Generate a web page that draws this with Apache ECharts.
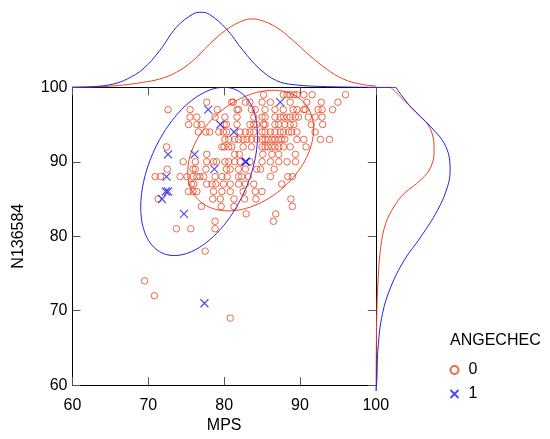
<!DOCTYPE html>
<html>
<head>
<meta charset="utf-8">
<script src="https://cdn.jsdelivr.net/npm/echarts@6/dist/echarts.min.js"></script>
<style>html,body{margin:0;padding:0;background:#fff}#main{width:550px;height:439px}</style>
</head>
<body>
<div id="main"></div>
<script>
var red = '#E8431E', blue = '#2121E6';
var font = 'Liberation Sans, Arial, sans-serif';

// ANGECHEC = 0 (circles), [MPS, N136584]
var group0 = [
  [85.2,99],[87.8,99],[88.3,99],[88.7,99],[89.2,99],[89.6,99],[90.5,99],[91.6,99],[96.0,99],
  [77.7,98],[81.0,98],[81.2,98],[82.8,98],[83.4,98],[85.0,98],[86.1,98],[88.7,98],[90.9,98],[92.8,98],[95.0,98],
  [72.6,97],[75.5,97],[79.1,97],[81.7,97],[81.9,97],[83.6,97],[84.1,97],[85.4,97],[86.7,97],[87.8,97],[89.1,97],[89.6,97],[90.5,97],[90.7,97],[92.4,97],[92.9,97],[94.3,97],
  [75.5,96],[76.4,96],[78.8,96],[80.1,96],[81.7,96],[83.9,96],[85.0,96],[85.4,96],[86.7,96],[87.4,96],[87.8,96],[88.3,96],[88.7,96],[89.4,96],[89.8,96],[91.1,96],[92.0,96],[92.9,96],
  [75.3,95],[76.4,95],[77.0,95],[80.0,95],[80.3,95],[81.7,95],[83.4,95],[83.9,95],[84.3,95],[85.2,95],[85.4,95],[86.7,95],[87.2,95],[88.0,95],[88.7,95],[89.2,95],[91.5,95],[93.0,95],
  [76.6,94],[77.6,94],[78.1,94],[79.3,94],[79.9,94],[80.3,94],[82.1,94],[82.8,94],[83.4,94],[83.9,94],[85.0,94],[85.4,94],[86.1,94],[86.7,94],[87.4,94],[87.8,94],[88.5,94],[88.9,94],[89.6,94],[92.0,94],
  [80.1,93],[80.6,93],[81.4,93],[81.9,93],[82.5,93],[83.0,93],[83.6,93],[84.3,93],[85.0,93],[85.4,93],[85.8,93],[86.3,93],[86.7,93],[87.2,93],[87.6,93],[88.0,93],[89.6,93],[90.5,93],[92.7,93],[93.9,93],
  [72.4,92],[79.7,92],[80.0,92],[80.6,92],[81.0,92],[82.5,92],[83.6,92],[85.0,92],[85.4,92],[85.8,92],[86.3,92],[86.7,92],[87.2,92],[87.8,92],[88.7,92],[90.8,92],
  [77.7,91],[81.4,91],[82.0,91],[85.1,91],[86.3,91],[87.2,91],[89.4,91],
  [74.6,90],[76.2,90],[77.7,90],[78.6,90],[79.0,90],[80.1,90],[80.6,90],[81.4,90],[82.1,90],[83.4,90],[85.0,90],[86.1,90],[87.2,90],[88.3,90],[89.4,90],
  [72.5,89],[75.9,89],[76.2,89],[77.6,89],[80.3,89],[80.8,89],[81.9,89],[82.8,89],[84.3,89],[84.8,89],[86.6,89],
  [70.9,88],[71.6,88],[74.2,88],[75.1,88],[75.9,88],[76.4,88],[76.8,88],[77.3,88],[78.8,88],[79.7,88],[80.4,88],[81.9,88],[82.3,88],[83.2,88],[86.1,88],[88.4,88],[89.0,88],
  [75.7,87],[76.0,87],[77.7,87],[78.4,87],[78.9,87],[79.9,87],[80.8,87],[81.9,87],[82.8,87],[83.9,87],[87.6,87],
  [75.3,86],[75.9,86],[76.4,86],[78.6,86],[79.7,86],[80.8,86],[82.5,86],[84.1,86],[85.0,86],
  [71.3,85],[78.5,85],[79.5,85],[81.3,85],[82.7,85],[84.2,85],[88.8,85],
  [77.0,84],[79.6,84],[81.3,84],[89.0,84],
  [82.9,83],[86.8,83],[78.8,82],[86.5,82],[73.7,81],[75.6,81],[78.8,81],
  [77.5,78],[69.5,74],[70.8,72],[80.8,69]
];
// ANGECHEC = 1 (crosses)
var group1 = [
  [77.9,97],[87.4,98],[79.5,95],[81.3,94],[72.6,91],[76.1,91],[82.8,90],[82.9,90],
  [78.7,89],[72.4,88],[72.3,86],[72.6,86],[71.8,85],[74.7,83],[77.4,71]
];

// ellipses: [centre MPS, centre N136584, var MPS, cov, var N136584]
var ellipse0 = [83.5, 91.5, 68.9, 24.0, 65.6];
var ellipse1 = [76.7, 88.7, 59.3, 37.0, 127.7];

// marginal density of MPS (top), scaled height
var top0 = [[60,0.1],[62.7,0.3],[65,1.2],[67.2,2.7],[69.3,5],[71.5,8.3],[73.7,15],[75.9,26.7],[78.1,43.3],[80.3,57.7],[82.5,66.7],[83.6,68.3],[84.7,67.3],[86.9,60],[89.1,46.7],[91.3,31.7],[93.5,18.3],[95.7,8.3],[97.9,3.3],[100,1.3]];
var top1 = [[60,0.1],[63,0.8],[65.4,3.3],[67.2,8.3],[69.3,18.3],[71.5,36.7],[73.7,60],[75.9,73.3],[77.0,75],[78.1,72.7],[80.3,58.3],[82.5,36.7],[84.7,18.3],[86.9,6.7],[89.1,2.7],[93.5,0.7],[100,0]];

// marginal density of N136584 (right), scaled width
var right0 = [[15,100],[28,98.3],[45,96.1],[55,94.4],[58.3,91.7],[55,89.5],[45,87.8],[28.3,86],[18.3,84.3],[10,82.1],[5,79],[2.3,74.6],[1,70.2],[0.5,65],[0.3,60]];
var right1 = [[20,100],[35,97.4],[55,94.8],[70,92.2],[74.3,89.1],[71.7,86.9],[61.7,83.8],[45,80.3],[28.3,77.2],[15,73.7],[6.7,70.2],[2.3,65.8],[1,61.4],[0.3,60]];
var cap0 = [[0,100],[15,100]];
var cap1 = [[0,100],[20,100]];

var chart = echarts.init(document.getElementById('main'));

function ellipseItem(e, color) {
  return function (params, api) {
    var l11 = Math.sqrt(e[2]), l21 = e[3] / l11, l22 = Math.sqrt(e[4] - l21 * l21);
    var pts = [];
    for (var i = 0; i <= 144; i++) {
      var t = i / 144 * 2 * Math.PI;
      pts.push(api.coord([e[0] + l11 * Math.cos(t), e[1] + l21 * Math.cos(t) + l22 * Math.sin(t)]));
    }
    var cs = params.coordSys;
    return {
      type: 'polyline',
      shape: {points: pts},
      style: {stroke: color, fill: null, lineWidth: 1},
      clipPath: {type: 'rect', shape: {x: cs.x, y: cs.y, width: cs.width, height: cs.height}}
    };
  };
}

var tickStyle = {show: true, inside: true, length: 8, lineStyle: {color: '#555'}};
var lineStyle = {show: true, lineStyle: {color: '#000', width: 1}};
var label = {color: '#000', fontSize: 16, fontFamily: font};

function densLine(data, color, xi, yi, sm) {
  return {
    type: 'line', xAxisIndex: xi, yAxisIndex: yi, data: data,
    smooth: sm, showSymbol: false, symbol: 'none', silent: true,
    lineStyle: {color: color, width: 1}, z: 3
  };
}

option = {
  animation: false,
  title: {
    text: 'ANGECHEC', left: 450, top: 333, padding: 0,
    textStyle: {fontSize: 16, fontWeight: 'normal', color: '#000', fontFamily: font}
  },
  legend: {
    data: ['0', '1'], orient: 'vertical', left: 448, top: 362, padding: 0,
    itemWidth: 18, itemHeight: 8, itemGap: 8,
    textStyle: {fontSize: 16, color: '#000', fontFamily: font}
  },
  grid: [
    {left: 72.5, top: 87.3, width: 303.3, height: 303.7},
    {left: 72.5, top: 7.3, width: 303.3, height: 80},
    {left: 375.8, top: 87.3, width: 80, height: 303.7}
  ],
  xAxis: [
    {gridIndex: 0, type: 'value', min: 60, max: 100, interval: 10,
     name: 'MPS', nameLocation: 'middle', nameGap: 31,
     nameTextStyle: {fontSize: 16, color: '#000', fontFamily: font},
     axisLine: lineStyle, axisTick: tickStyle, splitLine: {show: false},
     axisLabel: Object.assign({margin: 12}, label)},
    {gridIndex: 0, type: 'value', min: 60, max: 100, interval: 10, position: 'top',
     axisLine: lineStyle, axisTick: tickStyle, axisLabel: {show: false}, splitLine: {show: false}},
    {gridIndex: 1, type: 'value', min: 60, max: 100, show: false},
    {gridIndex: 2, type: 'value', min: 0, max: 80, show: false}
  ],
  yAxis: [
    {gridIndex: 0, type: 'value', min: 60, max: 100, interval: 10,
     name: 'N136584', nameLocation: 'middle', nameGap: 46,
     nameTextStyle: {fontSize: 16, color: '#000', fontFamily: font},
     axisLine: lineStyle, axisTick: tickStyle, splitLine: {show: false},
     axisLabel: Object.assign({margin: 5}, label)},
    {gridIndex: 0, type: 'value', min: 60, max: 100, interval: 10, position: 'right',
     axisLine: lineStyle, axisTick: tickStyle, axisLabel: {show: false}, splitLine: {show: false}},
    {gridIndex: 1, type: 'value', min: 0, max: 80, show: false},
    {gridIndex: 2, type: 'value', min: 60, max: 100, show: false}
  ],
  series: [
    {name: '0', type: 'scatter', xAxisIndex: 0, yAxisIndex: 0, data: group0,
     symbol: 'circle', symbolSize: 6.5,
     itemStyle: {color: 'rgba(0,0,0,0)', borderColor: red, borderWidth: 1}, z: 4},
    {name: '1', type: 'scatter', xAxisIndex: 0, yAxisIndex: 0, data: group1,
     symbol: 'path://M0,0L10,10M10,0L0,10', symbolSize: 8,
     itemStyle: {color: 'none', borderColor: blue, borderWidth: 1.2}, z: 5},
    {name: 'ellipse0', type: 'custom', coordinateSystem: 'cartesian2d', xAxisIndex: 0, yAxisIndex: 0,
     data: [[ellipse0[0], ellipse0[1]]], renderItem: ellipseItem(ellipse0, red), silent: true, z: 3},
    {name: 'ellipse1', type: 'custom', coordinateSystem: 'cartesian2d', xAxisIndex: 0, yAxisIndex: 0,
     data: [[ellipse1[0], ellipse1[1]]], renderItem: ellipseItem(ellipse1, blue), silent: true, z: 3},
    densLine(top0, red, 2, 2, 0.4),
    densLine(top1, blue, 2, 2, 0.4),
    densLine(right0, red, 3, 3, 0.4),
    densLine(right1, blue, 3, 3, 0.4),
    densLine(cap0, red, 3, 3, false),
    densLine(cap1, blue, 3, 3, false)
  ]
};
chart.setOption(option);
</script>
</body>
</html>
